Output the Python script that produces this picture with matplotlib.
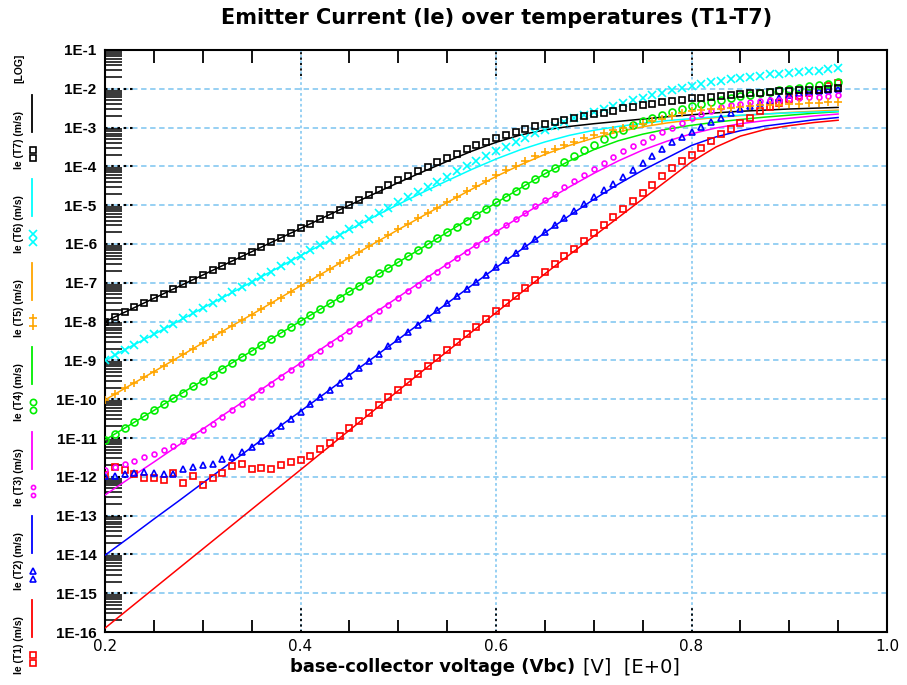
import numpy as np
import matplotlib
matplotlib.use("Agg")
import matplotlib.pyplot as plt
from matplotlib.ticker import FixedLocator, LogLocator, NullFormatter, FuncFormatter

plt.rcParams['font.family'] = ['Liberation Sans', 'DejaVu Sans']

# voltage grids (model curve every 25 mV, measurement every 10 mV)
v_model = np.linspace(0.2, 0.95, 31)
v_meas = np.linspace(0.2, 0.95, 76)

# model curves, log10(Ie)
model_t1 = [-15.90, -15.39, -14.88, -14.37, -13.86, -13.35, -12.84, -12.33, -11.82, -11.31,
            -10.80, -10.29, -9.78, -9.27, -8.77, -8.27, -7.77, -7.27, -6.77, -6.28,
            -5.80, -5.32, -4.84, -4.36, -3.88, -3.50, -3.22, -3.05, -2.95, -2.87, -2.81]
model_t2 = [-14.02, -13.56, -13.09, -12.63, -12.16, -11.70, -11.24, -10.77, -10.31, -9.85,
            -9.38, -8.92, -8.46, -7.99, -7.53, -7.07, -6.61, -6.16, -5.71, -5.27,
            -4.85, -4.46, -4.10, -3.78, -3.46, -3.24, -3.08, -2.96, -2.88, -2.80, -2.74]
model_t3 = [-12.47, -12.04, -11.62, -11.19, -10.77, -10.34, -9.92, -9.49, -9.07, -8.64,
            -8.22, -7.79, -7.37, -6.94, -6.52, -6.10, -5.69, -5.29, -4.90, -4.53,
            -4.18, -3.86, -3.58, -3.35, -3.16, -3.01, -2.90, -2.82, -2.76, -2.70, -2.65]
model_t4 = [-11.05, -10.67, -10.29, -9.90, -9.52, -9.14, -8.76, -8.37, -7.99, -7.61,
            -7.23, -6.85, -6.47, -6.09, -5.70, -5.32, -4.94, -4.56, -4.19, -3.86,
            -3.57, -3.34, -3.17, -3.04, -2.94, -2.86, -2.79, -2.73, -2.68, -2.63, -2.59]
model_t5 = [-10.02, -9.65, -9.29, -8.92, -8.55, -8.18, -7.82, -7.45, -7.08, -6.72,
            -6.35, -5.99, -5.63, -5.28, -4.93, -4.59, -4.26, -3.96, -3.69, -3.46,
            -3.27, -3.11, -2.98, -2.88, -2.80, -2.74, -2.69, -2.65, -2.61, -2.58, -2.55]
model_t6 = [-9.00, -8.66, -8.33, -7.99, -7.65, -7.32, -6.98, -6.64, -6.30, -5.97,
            -5.63, -5.30, -4.98, -4.67, -4.37, -4.08, -3.81, -3.57, -3.37, -3.20,
            -3.07, -2.97, -2.89, -2.82, -2.77, -2.72, -2.68, -2.65, -2.62, -2.60, -2.58]
model_t7 = [-8.00, -7.70, -7.40, -7.10, -6.80, -6.50, -6.20, -5.90, -5.60, -5.30,
            -5.00, -4.71, -4.42, -4.14, -3.87, -3.61, -3.38, -3.19, -3.06, -2.97,
            -2.90, -2.84, -2.78, -2.72, -2.67, -2.62, -2.58, -2.55, -2.52, -2.50, -2.48]

# measured points, log10(Ie)
meas_t1 = [-11.95, -11.76, -11.82, -11.93, -12.02, -12.02, -12.08, -11.91, -12.15, -11.97,
           -12.22, -12.02, -11.89, -11.71, -11.68, -11.81, -11.77, -11.79, -11.70, -11.63,
           -11.57, -11.46, -11.28, -11.12, -10.95, -10.75, -10.55, -10.35, -10.15, -9.95,
           -9.75, -9.55, -9.34, -9.14, -8.94, -8.74, -8.53, -8.33, -8.13, -7.93,
           -7.73, -7.53, -7.33, -7.13, -6.93, -6.73, -6.52, -6.32, -6.12, -5.91,
           -5.71, -5.51, -5.30, -5.10, -4.89, -4.68, -4.47, -4.26, -4.05, -3.86,
           -3.70, -3.52, -3.35, -3.17, -3.03, -2.87, -2.74, -2.58, -2.46, -2.36,
           -2.27, -2.19, -2.11, -2.02, -1.93, -1.85]
meas_t2 = [-11.98, -11.97, -11.93, -11.89, -11.88, -11.91, -11.93, -11.92, -11.80, -11.76,
           -11.70, -11.66, -11.55, -11.48, -11.35, -11.22, -11.07, -10.88, -10.70, -10.51,
           -10.32, -10.13, -9.95, -9.76, -9.57, -9.39, -9.20, -9.01, -8.83, -8.64,
           -8.46, -8.27, -8.08, -7.90, -7.71, -7.53, -7.34, -7.16, -6.97, -6.79,
           -6.60, -6.42, -6.23, -6.05, -5.87, -5.69, -5.51, -5.33, -5.15, -4.97,
           -4.80, -4.62, -4.45, -4.28, -4.10, -3.92, -3.74, -3.55, -3.38, -3.25,
           -3.12, -2.99, -2.86, -2.74, -2.63, -2.53, -2.44, -2.36, -2.29, -2.23,
           -2.17, -2.12, -2.08, -2.05, -2.02, -2.00]
meas_t3 = [-11.82, -11.74, -11.67, -11.59, -11.50, -11.41, -11.31, -11.20, -11.08, -10.95,
           -10.80, -10.63, -10.46, -10.29, -10.12, -9.94, -9.77, -9.60, -9.43, -9.26,
           -9.09, -8.92, -8.75, -8.58, -8.41, -8.24, -8.07, -7.90, -7.73, -7.56,
           -7.39, -7.22, -7.05, -6.88, -6.71, -6.54, -6.37, -6.20, -6.03, -5.86,
           -5.69, -5.52, -5.35, -5.19, -5.03, -4.86, -4.70, -4.54, -4.38, -4.22,
           -4.06, -3.90, -3.75, -3.61, -3.48, -3.36, -3.24, -3.12, -3.00, -2.88,
           -2.76, -2.65, -2.56, -2.48, -2.43, -2.39, -2.35, -2.32, -2.30, -2.28,
           -2.26, -2.24, -2.22, -2.20, -2.18, -2.16]
meas_t4 = [-11.05, -10.90, -10.74, -10.59, -10.44, -10.29, -10.13, -9.98, -9.83, -9.67,
           -9.52, -9.37, -9.21, -9.06, -8.91, -8.76, -8.60, -8.45, -8.30, -8.14,
           -7.99, -7.84, -7.68, -7.53, -7.38, -7.22, -7.07, -6.92, -6.76, -6.61,
           -6.46, -6.31, -6.16, -6.00, -5.85, -5.70, -5.55, -5.40, -5.24, -5.09,
           -4.93, -4.78, -4.63, -4.48, -4.33, -4.18, -4.03, -3.88, -3.73, -3.58,
           -3.44, -3.30, -3.17, -3.05, -2.94, -2.84, -2.75, -2.67, -2.59, -2.52,
           -2.45, -2.39, -2.33, -2.28, -2.23, -2.19, -2.15, -2.11, -2.07, -2.03,
           -2.00, -1.97, -1.94, -1.91, -1.87, -1.83]
meas_t5 = [-10.02, -9.87, -9.72, -9.58, -9.43, -9.29, -9.14, -8.99, -8.84, -8.70,
           -8.55, -8.40, -8.26, -8.11, -7.96, -7.82, -7.67, -7.52, -7.38, -7.23,
           -7.08, -6.94, -6.79, -6.64, -6.50, -6.35, -6.21, -6.06, -5.91, -5.77,
           -5.62, -5.48, -5.34, -5.20, -5.06, -4.92, -4.78, -4.64, -4.51, -4.37,
           -4.22, -4.10, -3.98, -3.86, -3.74, -3.64, -3.55, -3.46, -3.37, -3.28,
           -3.20, -3.13, -3.07, -3.02, -2.96, -2.90, -2.84, -2.78, -2.70, -2.63,
           -2.58, -2.55, -2.53, -2.51, -2.49, -2.47, -2.45, -2.43, -2.42, -2.41,
           -2.40, -2.38, -2.37, -2.36, -2.34, -2.33]
meas_t6 = [-9.00, -8.86, -8.73, -8.60, -8.46, -8.33, -8.19, -8.06, -7.92, -7.79,
           -7.65, -7.52, -7.38, -7.25, -7.11, -6.98, -6.84, -6.71, -6.57, -6.44,
           -6.30, -6.16, -6.03, -5.89, -5.76, -5.62, -5.49, -5.35, -5.21, -5.07,
           -4.93, -4.80, -4.66, -4.53, -4.40, -4.27, -4.13, -4.00, -3.87, -3.74,
           -3.61, -3.49, -3.37, -3.26, -3.15, -3.05, -2.95, -2.85, -2.76, -2.67,
           -2.59, -2.52, -2.44, -2.37, -2.30, -2.23, -2.16, -2.10, -2.04, -1.98,
           -1.93, -1.88, -1.83, -1.79, -1.75, -1.72, -1.69, -1.66, -1.63, -1.61,
           -1.59, -1.57, -1.55, -1.53, -1.50, -1.47]
meas_t7 = [-8.00, -7.87, -7.76, -7.63, -7.52, -7.40, -7.28, -7.16, -7.04, -6.92,
           -6.80, -6.68, -6.56, -6.44, -6.32, -6.20, -6.08, -5.96, -5.84, -5.72,
           -5.60, -5.48, -5.36, -5.24, -5.12, -5.00, -4.87, -4.75, -4.62, -4.49,
           -4.36, -4.24, -4.12, -4.01, -3.89, -3.78, -3.67, -3.56, -3.46, -3.36,
           -3.27, -3.19, -3.11, -3.04, -2.97, -2.91, -2.85, -2.80, -2.75, -2.70,
           -2.66, -2.62, -2.56, -2.50, -2.46, -2.42, -2.38, -2.35, -2.31, -2.28,
           -2.25, -2.23, -2.20, -2.18, -2.16, -2.14, -2.12, -2.10, -2.08, -2.06,
           -2.05, -2.04, -2.03, -2.02, -2.00, -1.99]

labels = ['T1', 'T2', 'T3', 'T4', 'T5', 'T6', 'T7']
colors = ['#ff0000', '#0000ff', '#ff00ff', '#00ee00', '#ffa500', '#00ffff', '#000000']
markers = ['s', '^', 'o', 'o', '+', 'x', 's']
msizes = [5, 4.5, 3.5, 5, 6, 6, 5]
models = [model_t1, model_t2, model_t3, model_t4, model_t5, model_t6, model_t7]
meas = [meas_t1, meas_t2, meas_t3, meas_t4, meas_t5, meas_t6, meas_t7]

W, H = 907, 685
fig = plt.figure(figsize=(W / 100, H / 100), dpi=100)
ax = fig.add_axes([105 / W, 1 - 632 / H, 782 / W, 582 / H])

grid_col = '#8fcdf2'
for v in [0.4, 0.6, 0.8]:
    ax.axvline(v, color=grid_col, ls=(0, (1.5, 1.5)), lw=1.3, zorder=0)
for e in range(-15, -1):
    ax.axhline(10.0 ** e, color=grid_col, ls=(0, (3, 2)), lw=1.3, zorder=0)

for i in range(7):
    ax.plot(v_model, 10.0 ** np.array(models[i]), color=colors[i], lw=1.1, zorder=3)
    ax.plot(v_meas, 10.0 ** np.array(meas[i]), ls='none', marker=markers[i],
            ms=msizes[i], mfc='none', mec=colors[i], mew=1.2, zorder=4)

ax.set_yscale('log')
ax.set_xlim(0.2, 1.0)
ax.set_ylim(1e-16, 1e-1)

# y axis ticks
ax.yaxis.set_major_locator(FixedLocator([10.0 ** e for e in range(-16, 0)]))
ax.yaxis.set_major_formatter(FuncFormatter(lambda y, p: '1E%d' % round(np.log10(y))))
ax.yaxis.set_minor_locator(LogLocator(base=10, subs=np.arange(2, 10), numticks=100))
ax.yaxis.set_minor_formatter(NullFormatter())
ax.tick_params(axis='y', which='major', length=0, pad=6, labelsize=11)
ax.tick_params(axis='y', which='minor', direction='in', length=12, width=1.1, left=True, right=False)
for t in ax.get_yticklabels():
    t.set_fontweight('bold')
ax.hlines([10.0 ** e for e in range(-15, -1)], 0, 0.04, transform=ax.get_yaxis_transform(),
          colors='k', linestyles=(0, (1.2, 1.8)), lw=1.5, zorder=2)

# x axis ticks
ax.xaxis.set_major_locator(FixedLocator([0.2, 0.4, 0.6, 0.8, 1.0]))
ax.xaxis.set_major_formatter(FuncFormatter(lambda x, p: '%.1f' % x))
ax.xaxis.set_minor_locator(FixedLocator([0.25, 0.3, 0.35, 0.45, 0.5, 0.55,
                                         0.65, 0.7, 0.75, 0.85, 0.9, 0.95]))
ax.tick_params(axis='x', which='major', length=0, pad=5, labelsize=11)
ax.tick_params(axis='x', which='minor', direction='in', length=9, width=1.3, top=True, bottom=True)
for t in ax.get_xticklabels():
    t.set_fontfamily('DejaVu Sans')
for v in [0.4, 0.6, 0.8]:
    ax.vlines(v, 0, 0.045, transform=ax.get_xaxis_transform(), colors='k',
              linestyles=(0, (1.2, 1.8)), lw=1.3, zorder=2)
    ax.vlines(v, 0.955, 1, transform=ax.get_xaxis_transform(), colors='k',
              linestyles=(0, (1.2, 1.8)), lw=1.3, zorder=2)

for s in ax.spines.values():
    s.set_linewidth(1.5)

fig.text(497 / W, 1 - 18 / H, 'Emitter Current (Ie) over temperatures (T1-T7)',
         ha='center', va='center', fontsize=15, fontweight='bold', family='DejaVu Sans')
fig.text(575 / W, 1 - 667 / H, 'base-collector voltage (Vbc)', ha='right', va='center',
         fontsize=13, fontweight='bold', family='DejaVu Sans')
fig.text(583 / W, 1 - 667 / H, '[V]  [E+0]', ha='left', va='center', fontsize=14,
         family='DejaVu Sans')

# legend strip along the left edge
lax = fig.add_axes([0, 0, 100 / W, 1])
lax.set_xlim(0, 100)
lax.set_ylim(H, 0)
lax.axis('off')
for i in range(7):
    top = 600 - i * 84.2
    lax.text(19, top + 74, 'Ie (%s) (m/s)' % labels[i], rotation=90, ha='center', va='bottom',
             fontsize=7.5, fontweight='bold')
    lax.plot([32, 32], [top, top + 37], color=colors[i], lw=1.3)
    lax.plot([33, 33], [top + 55, top + 63], ls='none', marker=markers[i], ms=msizes[i] - 0.5,
             mfc='none', mec=colors[i], mew=1.2)
lax.text(19, 83, '[LOG]', rotation=90, ha='center', va='bottom', fontsize=7.5, fontweight='bold')

fig.savefig('out.png', dpi=100)
